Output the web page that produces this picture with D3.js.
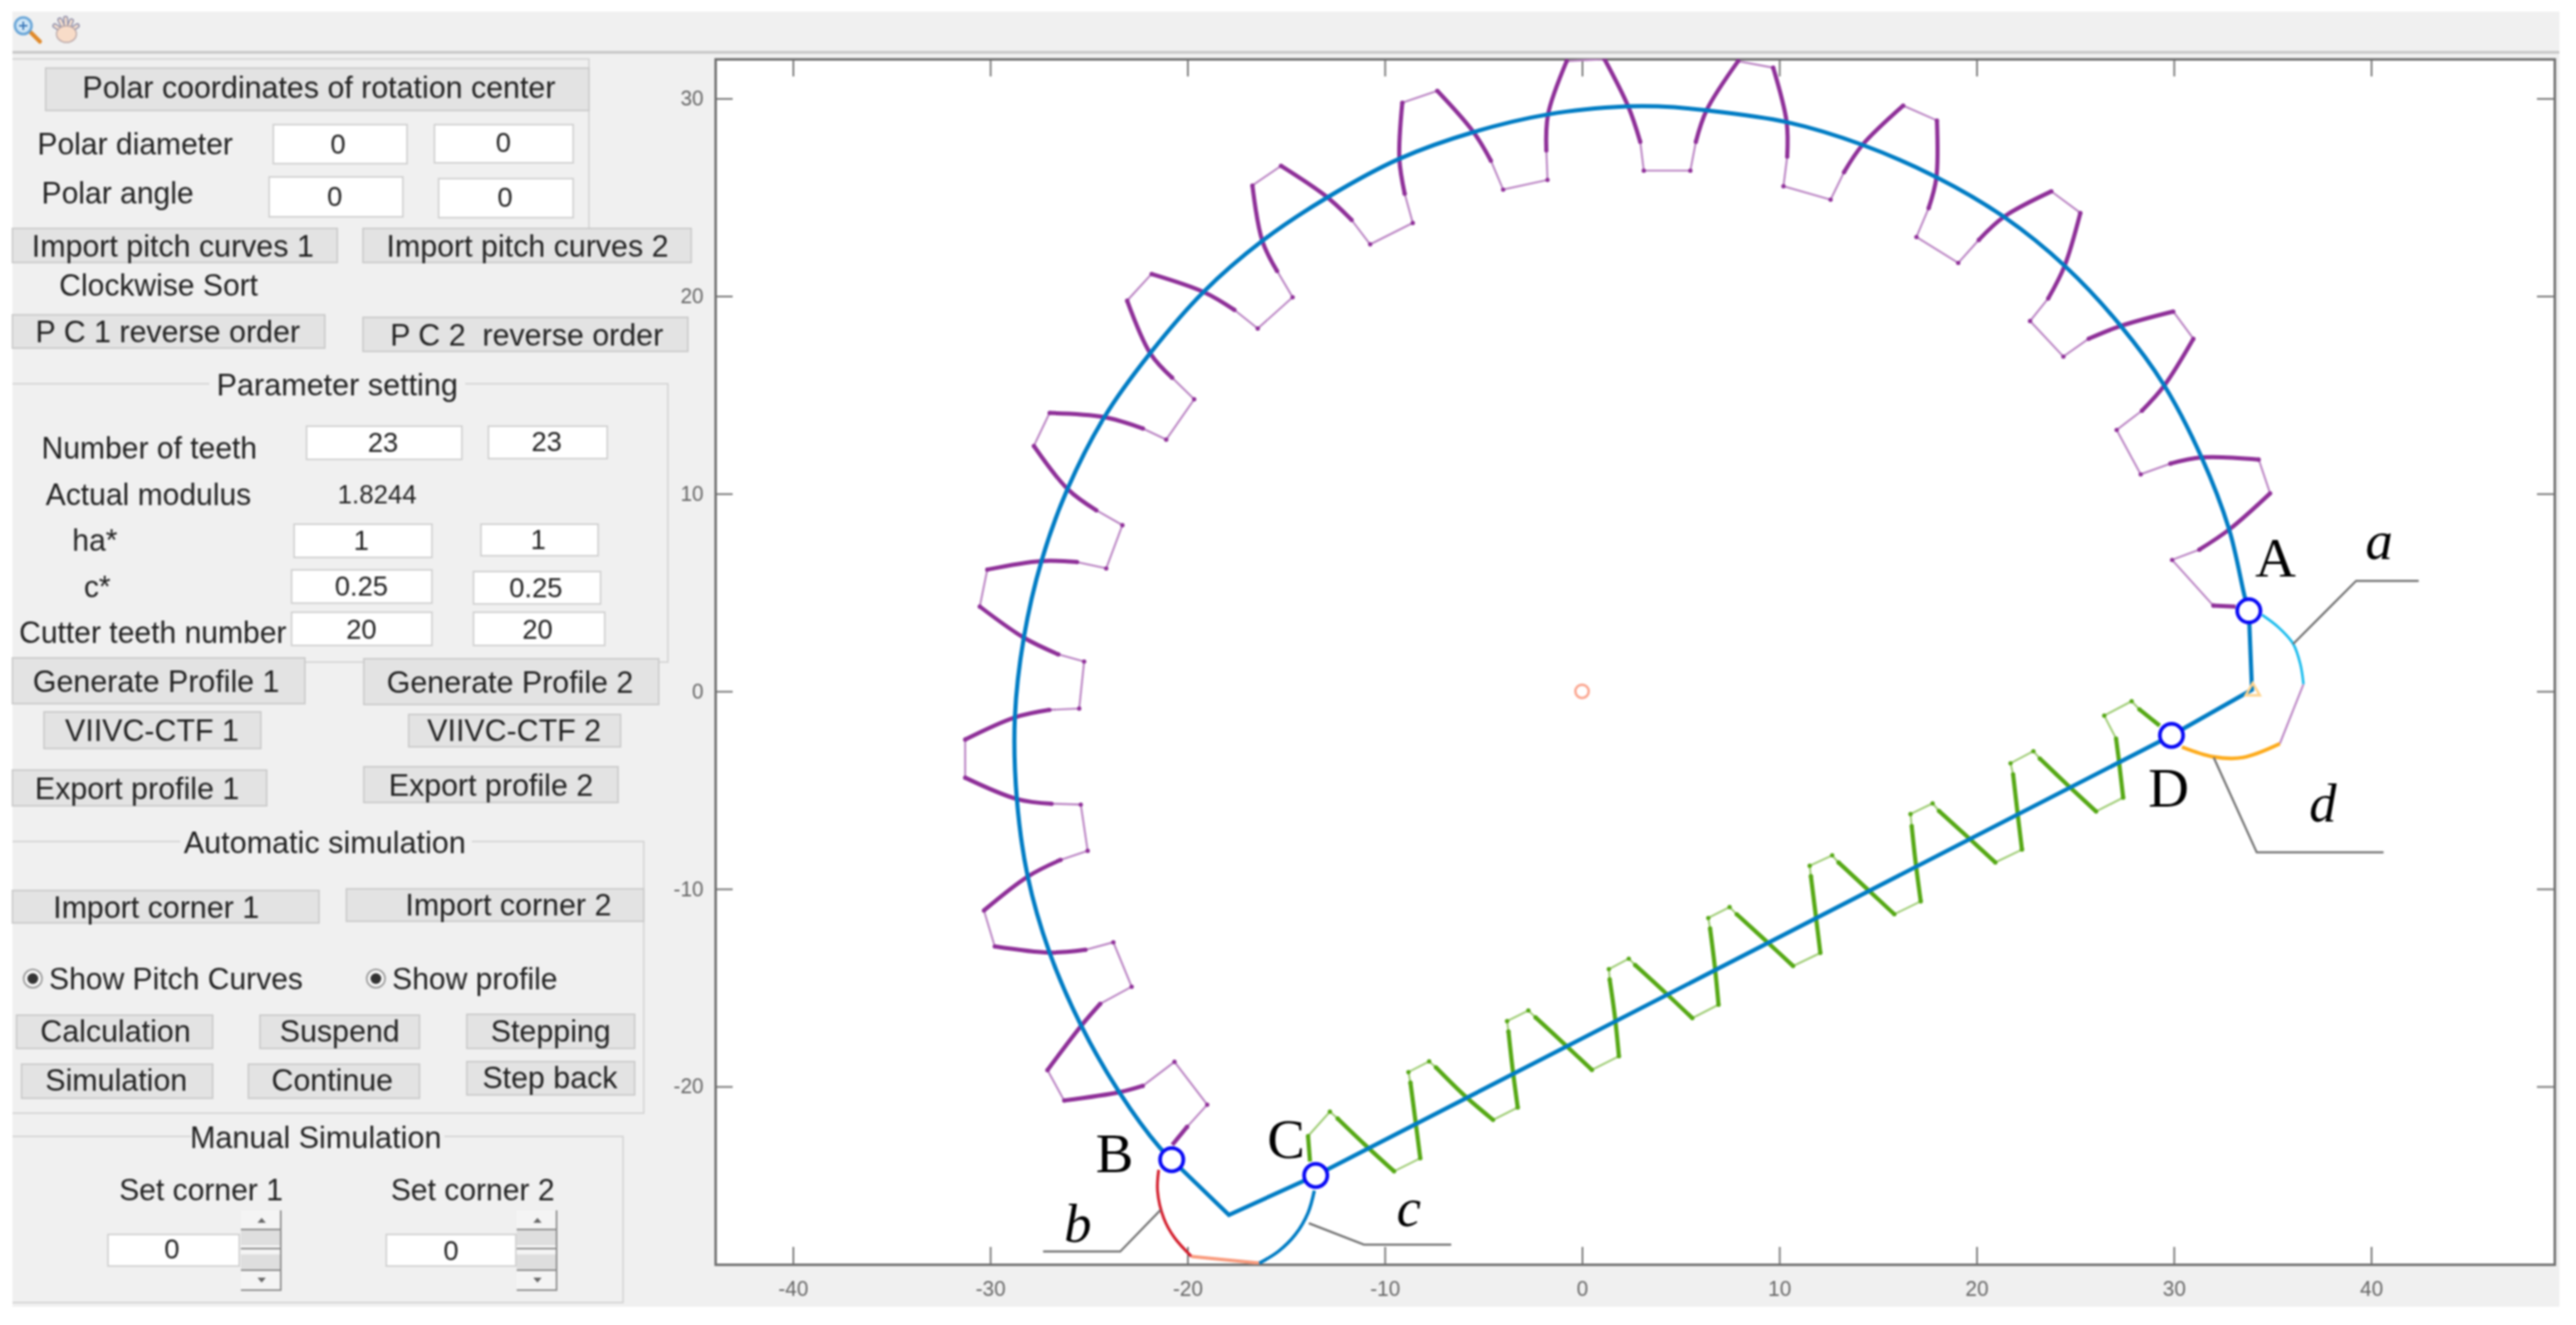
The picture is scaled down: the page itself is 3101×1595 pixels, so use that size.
<!DOCTYPE html>
<html>
<head>
<meta charset="utf-8">
<script src="https://cdn.jsdelivr.net/npm/d3@7"></script>
<style>
  html, body { margin: 0; padding: 0; background: #fff; }
  svg { display: block; filter: blur(0.8px); }
  text { font-family: 'Liberation Sans', Arial, sans-serif; fill: #222; white-space: pre; }
</style>
</head>
<body>
<svg id="chart" width="3101" height="1595"></svg>
<script>
// ---- chart values, in axis units ----
const xTicks = [-40, -30, -20, -10, 0, 10, 20, 30, 40];
const yTicks = [-20, -10, 0, 10, 20, 30];

const pointLabels = [['A', 35.15, 6.74], ['B', -23.7, -23.38], ['C', -15.0, -22.67], ['D', 29.73, -4.89]];
const curveLabels = [['a', 40.4, 7.3], ['b', -25.56, -26.95], ['c', -8.78, -26.46], ['d', 37.55, -5.66]];
const markedPoints = [[33.8, 4.07], [-20.8, -23.7], [-13.5, -24.5], [29.88, -2.23]];
const rotationCenter = [0, 0];
const cutterMark = [34.0, 0.0];

// pitch curve: arc from A round the top to B
const pitchArc = [[33.8, 4.07], [33.6, 4.76], [32.8, 8.2], [31.4, 11.85], [29.5, 15.5], [27.3, 18.5], [24.5, 21.5],
  [21.4, 24.0], [18.0, 26.0], [14.2, 27.66], [10.4, 28.8], [6.3, 29.4], [3.85, 29.6], [2.3, 29.6], [-1.7, 29.2],
  [-5.5, 28.3], [-9.26, 26.95], [-12.9, 25.0], [-16.2, 22.8], [-19.2, 20.2], [-21.9, 17.1], [-24.2, 13.9],
  [-26.1, 10.2], [-27.4, 6.6], [-28.3, 2.7], [-28.75, -1.3], [-28.65, -5.45], [-28.1, -9.37], [-27.0, -13.2],
  [-25.4, -16.9], [-23.45, -20.3], [-21.4, -23.1], [-20.8, -23.7]];
// pitch curve: straight parts from B by C and D back to A
const pitchStraight = [[-20.8, -23.7], [-17.9, -26.5], [-13.5, -24.5], [29.88, -2.23], [33.96, 0.08], [33.8, 4.07]];

// gear profile: thick flanks
const gearFlanks = [
  [[33.13, 4.29], [32.0, 4.34]],
  [[31.29, 7.17], [32.82, 8.2], [34.88, 10.02]],
  [[34.3, 11.73], [31.43, 11.84], [29.82, 11.52]],
  [[28.38, 14.2], [29.52, 15.48], [30.99, 17.84]],
  [[29.97, 19.22], [27.31, 18.49], [25.68, 17.84]],
  [[23.63, 19.88], [24.46, 21.53], [25.26, 24.21]],
  [[23.79, 25.3], [21.4, 24.02], [20.11, 22.84]],
  [[17.57, 24.45], [17.96, 25.99], [17.99, 28.89]],
  [[16.28, 29.64], [14.22, 27.66], [13.28, 26.27]],
  [[10.4, 27.06], [10.37, 28.82], [9.69, 31.56]],
  [[7.91, 31.89], [6.32, 29.42], [5.77, 27.81]],
  [[2.95, 27.81], [2.34, 29.6], [1.14, 31.99]],
  [[-0.78, 31.89], [-1.72, 29.21], [-1.81, 27.38]],
  [[-4.62, 26.85], [-5.51, 28.31], [-7.34, 30.39]],
  [[-9.11, 29.79], [-9.26, 26.96], [-8.99, 25.18]],
  [[-11.68, 23.85], [-12.95, 25.03], [-15.26, 26.59]],
  [[-16.71, 25.6], [-16.2, 22.77], [-15.46, 21.27]],
  [[-17.62, 19.3], [-19.16, 20.2], [-21.82, 21.12]],
  [[-23.06, 19.77], [-21.88, 17.09], [-20.78, 15.87]],
  [[-22.26, 13.3], [-24.24, 13.88], [-26.99, 14.09]],
  [[-27.79, 12.42], [-26.07, 10.23], [-24.62, 9.16]],
  [[-25.6, 6.54], [-27.43, 6.59], [-30.15, 6.16]],
  [[-30.53, 4.29], [-28.32, 2.73], [-26.55, 1.87]],
  [[-27.0, -0.94], [-28.75, -1.32], [-31.27, -2.44]],
  [[-31.27, -4.37], [-28.65, -5.45], [-26.89, -5.69]],
  [[-26.43, -8.53], [-28.09, -9.37], [-30.32, -11.09]],
  [[-29.77, -12.91], [-26.99, -13.22], [-25.17, -13.08]],
  [[-24.42, -15.81], [-25.39, -16.93], [-27.1, -19.17]],
  [[-26.25, -20.71], [-23.45, -20.29], [-22.27, -19.97]],
  [[-20.02, -22.04], [-20.77, -22.95]]
];
// gear profile: thin tips and roots between the flanks
const gearLands = [
  [[32.0, 4.34], [29.91, 6.65], [31.29, 7.17]],
  [[34.88, 10.02], [34.3, 11.73]],
  [[29.82, 11.52], [28.32, 10.98], [27.1, 13.23], [28.38, 14.2]],
  [[30.99, 17.84], [29.97, 19.22]],
  [[25.68, 17.84], [24.4, 16.94], [22.71, 18.74], [23.63, 19.88]],
  [[25.26, 24.21], [23.79, 25.3]],
  [[20.11, 22.84], [19.07, 21.68], [16.95, 22.99], [17.57, 24.45]],
  [[17.99, 28.89], [16.28, 29.64]],
  [[13.28, 26.27], [12.6, 24.88], [10.21, 25.56], [10.4, 27.06]],
  [[9.69, 31.56], [7.91, 31.89]],
  [[5.77, 27.81], [5.49, 26.35], [3.13, 26.35], [2.95, 27.81]],
  [[1.14, 31.99], [-0.78, 31.89]],
  [[-1.81, 27.38], [-1.75, 25.88], [-4.0, 25.39], [-4.62, 26.85]],
  [[-7.34, 30.39], [-9.11, 29.79]],
  [[-8.99, 25.18], [-8.58, 23.7], [-10.74, 22.62], [-11.68, 23.85]],
  [[-15.26, 26.59], [-16.71, 25.6]],
  [[-15.46, 21.27], [-14.67, 19.94], [-16.44, 18.36], [-17.62, 19.3]],
  [[-21.82, 21.12], [-23.06, 19.77]],
  [[-20.78, 15.87], [-19.66, 14.78], [-21.08, 12.74], [-22.26, 13.3]],
  [[-26.99, 14.09], [-27.79, 12.42]],
  [[-24.62, 9.16], [-23.3, 8.41], [-24.12, 6.22], [-25.6, 6.54]],
  [[-30.15, 6.16], [-30.53, 4.29]],
  [[-26.55, 1.87], [-25.24, 1.51], [-25.49, -0.87], [-27.0, -0.94]],
  [[-31.27, -2.44], [-31.27, -4.37]],
  [[-26.89, -5.69], [-25.41, -5.73], [-25.06, -8.07], [-26.43, -8.53]],
  [[-30.32, -11.09], [-29.77, -12.91]],
  [[-25.17, -13.08], [-23.76, -12.7], [-22.83, -14.95], [-24.42, -15.81]],
  [[-27.1, -19.17], [-26.25, -20.71]],
  [[-22.27, -19.97], [-20.66, -18.75], [-19.0, -20.92], [-20.02, -22.04]]
];

// rack profile: thick flanks
const rackFlanks = [
  [[-13.79, -23.8], [-13.89, -22.51]],
  [[-12.39, -21.62], [-11.0, -22.95], [-9.53, -24.29]],
  [[-8.2, -23.63], [-8.46, -21.62], [-8.7, -19.8]],
  [[-7.41, -19.03], [-5.99, -20.43], [-4.51, -21.69]],
  [[-3.26, -21.06], [-3.52, -19.1], [-3.73, -17.21]],
  [[-2.36, -16.5], [-0.96, -17.79], [0.5, -19.16]],
  [[1.87, -18.47], [1.66, -16.42], [1.4, -14.57]],
  [[2.69, -13.85], [4.19, -15.22], [5.59, -16.54]],
  [[6.92, -15.86], [6.73, -13.93], [6.49, -12.0]],
  [[7.84, -11.28], [9.3, -12.61], [10.7, -13.9]],
  [[12.08, -13.24], [11.84, -11.28], [11.6, -9.35]],
  [[13.0, -8.66], [14.44, -9.99], [15.83, -11.28]],
  [[17.17, -10.63], [16.91, -8.66], [16.71, -6.82]],
  [[18.09, -6.05], [19.51, -7.34], [20.95, -8.66]],
  [[22.3, -8.01], [22.06, -6.02], [21.85, -4.2]],
  [[23.2, -3.4], [24.6, -4.73], [26.06, -6.08]],
  [[27.43, -5.38], [27.2, -3.4], [27.07, -2.39]],
  [[28.25, -0.91], [29.28, -1.74]]
];
// rack profile: thin tips and roots
const rackLands = [
  [[-13.89, -22.51], [-12.78, -21.27], [-12.39, -21.62]],
  [[-9.53, -24.29], [-8.2, -23.63]],
  [[-8.7, -19.8], [-8.8, -19.27], [-7.75, -18.73], [-7.41, -19.03]],
  [[-4.51, -21.69], [-3.26, -21.06]],
  [[-3.73, -17.21], [-3.8, -16.69], [-2.72, -16.15], [-2.36, -16.5]],
  [[0.5, -19.16], [1.87, -18.47]],
  [[1.4, -14.57], [1.36, -14.06], [2.37, -13.53], [2.69, -13.85]],
  [[5.59, -16.54], [6.92, -15.86]],
  [[6.49, -12.0], [6.4, -11.47], [7.48, -10.92], [7.84, -11.28]],
  [[10.7, -13.9], [12.08, -13.24]],
  [[11.6, -9.35], [11.54, -8.83], [12.68, -8.3], [13.0, -8.66]],
  [[15.83, -11.28], [17.17, -10.63]],
  [[16.71, -6.82], [16.65, -6.21], [17.77, -5.67], [18.09, -6.05]],
  [[20.95, -8.66], [22.3, -8.01]],
  [[21.85, -4.2], [21.72, -3.64], [22.88, -3.03], [23.2, -3.4]],
  [[26.06, -6.08], [27.43, -5.38]],
  [[27.07, -2.39], [26.47, -1.23], [27.86, -0.5], [28.25, -0.91]]
];

// transition curves a, b, c, d and the pieces that join them
const curveA = [[34.47, 3.87], [35.3, 3.24], [36.05, 2.4], [36.42, 1.34], [36.57, 0.36]];
const curveB = [[-21.46, -24.22], [-21.52, -25.27], [-21.2, -26.67], [-20.66, -27.65], [-19.8, -28.6]];
const curveC = [[-13.57, -25.27], [-13.89, -26.39], [-14.54, -27.5], [-15.4, -28.35], [-16.36, -28.94]];
const curveD = [[30.41, -2.82], [31.99, -3.31], [33.49, -3.35], [35.37, -2.65]];
const joinAD = [[36.57, 0.36], [35.37, -2.65]];
const joinBC = [[-19.8, -28.6], [-16.36, -28.94]];

const leaders = [
  [[36.05, 2.4], [39.24, 5.59], [42.41, 5.59]],
  [[-21.37, -26.25], [-23.41, -28.35], [-27.32, -28.35]],
  [[-13.85, -26.92], [-11.06, -28.0], [-6.63, -28.0]],
  [[32.02, -3.35], [34.2, -8.15], [40.63, -8.15]]
];

// ---- the GUI panel round the axes (screen layout, not chart values) ----
const uiButtons = [
  ['Polar coordinates of rotation center', 55, 82, 709, 133, 384, 105],
  ['Import pitch curves 1', 15, 275, 406, 316, 208, 296],
  ['Import pitch curves 2', 437, 275, 832, 316, 635, 296],
  ['P C 1 reverse order', 15, 379, 391, 419, 202, 399],
  ['P C 2  reverse order', 437, 382, 828, 423, 634, 403],
  ['Generate Profile 1', 15, 792, 367, 847, 188, 820],
  ['Generate Profile 2', 438, 793, 793, 848, 614, 821],
  ['VIIVC-CTF 1', 53, 857, 314, 901, 183, 879],
  ['VIIVC-CTF 2', 492, 860, 747, 899, 619, 879],
  ['Export profile 1', 15, 927, 321, 970, 165, 949],
  ['Export profile 2', 438, 923, 744, 966, 591, 945],
  ['Import corner 1', 15, 1072, 384, 1111, 188, 1092],
  ['Import corner 2', 417, 1070, 775, 1109, 612, 1089],
  ['Calculation', 20, 1222, 256, 1262, 139, 1241],
  ['Suspend', 313, 1222, 505, 1262, 409, 1241],
  ['Stepping', 562, 1221, 764, 1262, 663, 1241],
  ['Simulation', 26, 1281, 256, 1322, 140, 1300],
  ['Continue', 299, 1281, 505, 1322, 400, 1300],
  ['Step back', 562, 1278, 764, 1318, 662, 1297]
];
const uiInputs = [
  ['0', 329, 150, 490, 197, 407, 173], ['0', 523, 150, 690, 196, 606, 171],
  ['0', 324, 213, 485, 261, 403, 236], ['0', 528, 215, 690, 262, 608, 237],
  ['23', 369, 513, 556, 553, 461, 532], ['23', 588, 513, 731, 552, 658, 531],
  ['1', 354, 631, 520, 671, 435, 650], ['1', 579, 631, 720, 669, 648, 649],
  ['0.25', 351, 686, 520, 726, 435, 705], ['0.25', 570, 688, 723, 727, 645, 707],
  ['20', 351, 737, 520, 777, 435, 757], ['20', 570, 737, 728, 777, 647, 757],
  ['0', 130, 1486, 288, 1524, 207, 1503], ['0', 465, 1486, 621, 1524, 543, 1505]
];
const uiLabels = [
  ['Polar diameter', 45, 173, 'start'], ['Polar angle', 50, 232, 'start'],
  ['Clockwise Sort', 191, 343, 'middle'], ['Number of teeth', 50, 539, 'start'],
  ['Actual modulus', 55, 595, 'start'], ['ha*', 87, 650, 'start'], ['c*', 101, 706, 'start'],
  ['Cutter teeth number', 23, 761, 'start'], ['Show Pitch Curves', 59, 1178, 'start'],
  ['Show profile', 472, 1178, 'start'], ['Set corner 1', 242, 1432, 'middle'], ['Set corner 2', 569, 1432, 'middle']
];
// title, title centre, frame top, frame right, frame bottom, gap in the top line
const uiGroups = [
  ['', 0, 71, 709, 278, 0, 0],
  ['Parameter setting', 406, 462, 804, 797, 252, 560],
  ['Automatic simulation', 391, 1013, 775, 1340, 217, 568],
  ['Manual Simulation', 380, 1368, 750, 1568, 230, 535]
];
const uiRadios = [[39.5, 1178], [452.5, 1178]];
const uiSpinners = [290, 622];

const svg = d3.select('#chart');

// Panel background and toolbar
svg.append('rect').attr('x', 15).attr('y', 14).attr('width', 3066).attr('height', 1559).attr('fill', '#f0f0f0');
svg.append('line').attr('x1', 15).attr('x2', 3081).attr('y1', 63).attr('y2', 63).attr('stroke', '#c4c4c4').attr('stroke-width', 3);

let icons = svg.append('g').attr('class', 'toolbar');
icons.append('line').attr('x1', 37).attr('y1', 39).attr('x2', 48).attr('y2', 50)
  .attr('stroke', '#e08a2c').attr('stroke-width', 5).attr('stroke-linecap', 'round');
icons.append('circle').attr('cx', 28).attr('cy', 31).attr('r', 10)
  .attr('fill', '#cfe6f7').attr('stroke', '#6aa6d8').attr('stroke-width', 3);
icons.append('path').attr('d', 'M23 31h10M28 26v10').attr('stroke', '#3c78b8').attr('stroke-width', 2);
[[66, 31], [72, 24], [79, 22], [86, 25], [93, 31]].forEach(f => {
  icons.append('line').attr('x1', f[0]).attr('y1', f[1]).attr('x2', 80).attr('y2', 40)
    .attr('stroke', '#8c8ca8').attr('stroke-width', 6).attr('stroke-linecap', 'round');
  icons.append('line').attr('x1', f[0]).attr('y1', f[1]).attr('x2', 80).attr('y2', 40)
    .attr('stroke', '#f8e2d0').attr('stroke-width', 3).attr('stroke-linecap', 'round');
});
icons.append('ellipse').attr('cx', 80).attr('cy', 41).attr('rx', 12).attr('ry', 10)
  .attr('fill', '#f8dcc8').attr('stroke', '#b9a6a6').attr('stroke-width', 1.5);

// Group frames
let frames = svg.append('g').attr('class', 'frames').attr('fill', 'none').attr('stroke', '#d6d6d6').attr('stroke-width', 2);
frames.selectAll('path').data(uiGroups).join('path')
  .attr('d', d => {
    let top = d[0] ? `M15 ${d[2]}H${d[5]}M${d[6]} ${d[2]}H${d[3]}` : `M15 ${d[2]}H${d[3]}`;
    let bottom = d[0] ? `H15` : '';
    return `${top}V${d[4]}${bottom}`;
  });
svg.append('g').selectAll('text').data(uiGroups.filter(d => d[0])).join('text')
  .attr('x', d => d[1]).attr('y', d => d[2] + 1).attr('dy', '.35em')
  .attr('text-anchor', 'middle').attr('font-size', 36.8).text(d => d[0]);

// Buttons and edit boxes
function drawBoxes(rows, cls, fill, stroke, size) {
  let g = svg.append('g').attr('class', cls);
  g.selectAll('rect').data(rows).join('rect')
    .attr('x', d => d[1]).attr('y', d => d[2])
    .attr('width', d => d[3] - d[1]).attr('height', d => d[4] - d[2])
    .attr('fill', fill).attr('stroke', stroke).attr('stroke-width', 2);
  g.selectAll('text').data(rows).join('text')
    .attr('x', d => d[5]).attr('y', d => d[6]).attr('dy', '.36em')
    .attr('text-anchor', 'middle').attr('font-size', size).text(d => d[0]);
}
drawBoxes(uiButtons, 'buttons', '#e3e3e3', '#cccccc', 36.6);
drawBoxes(uiInputs, 'inputs', '#ffffff', '#d2d2d2', 33);

svg.append('g').selectAll('text').data(uiLabels).join('text')
  .attr('x', d => d[1]).attr('y', d => d[2]).attr('dy', '.36em')
  .attr('text-anchor', d => d[3]).attr('font-size', 36.2).text(d => d[0]);
svg.append('text').attr('x', 454).attr('y', 595).attr('dy', '.36em')
  .attr('text-anchor', 'middle').attr('font-size', 31).text('1.8244');

// Radio buttons
let radios = svg.append('g').attr('class', 'radios');
radios.selectAll('circle.outer').data(uiRadios).join('circle').attr('class', 'outer')
  .attr('cx', d => d[0]).attr('cy', d => d[1]).attr('r', 11)
  .attr('fill', '#fafafa').attr('stroke', '#9a9a9a').attr('stroke-width', 2);
radios.selectAll('circle.inner').data(uiRadios).join('circle').attr('class', 'inner')
  .attr('cx', d => d[0]).attr('cy', d => d[1]).attr('r', 6.5).attr('fill', '#333');

// Spin boxes
uiSpinners.forEach(sx => {
  let g = svg.append('g').attr('class', 'spinner').attr('transform', `translate(${sx}, 1457)`);
  g.append('rect').attr('width', 49).attr('height', 97).attr('fill', '#f4f4f4');
  g.append('rect').attr('y', 23).attr('width', 49).attr('height', 19).attr('fill', '#dedede');
  g.append('rect').attr('y', 53).attr('width', 49).attr('height', 19).attr('fill', '#dedede');
  g.append('path').attr('d', 'M0 23H49M0 46H49M0 72H49M0 96H49M48 0V97').attr('stroke', '#8e8e8e').attr('stroke-width', 2).attr('fill', 'none');
  g.append('path').attr('d', 'M20 15L25 9L30 15ZM20 81L25 87L30 81Z').attr('fill', '#666');
});

// Axes: aspect kept equal, limits read from the frame
const x = d3.scaleLinear().domain([-43.94, 49.29]).range([861, 3075]);
const y = d3.scaleLinear().domain([-29, 32]).range([1522, 71]);

svg.append('rect').attr('x', 861).attr('y', 71).attr('width', 2214).attr('height', 1451).attr('fill', '#fff');

svg.append('defs').append('clipPath').attr('id', 'plot-clip').append('rect')
  .attr('x', 861).attr('y', 71).attr('width', 2214).attr('height', 1451);

const axisBottom = d3.axisBottom(x).tickValues(xTicks).tickSize(-21).tickPadding(20).tickFormat(d => String(d));
const axisTop = d3.axisTop(x).tickValues(xTicks).tickSize(-21).tickFormat('');
const axisLeft = d3.axisLeft(y).tickValues(yTicks).tickSize(-21).tickPadding(14).tickFormat(d => String(d));
const axisRight = d3.axisRight(y).tickValues(yTicks).tickSize(-21).tickFormat('');

function styleAxis(g) {
  g.select('.domain').attr('stroke', '#707070').attr('stroke-width', 3);
  g.selectAll('.tick line').attr('stroke', '#707070').attr('stroke-width', 2);
  g.selectAll('.tick text').attr('font-size', 25).attr('font-family', "'Liberation Sans', Arial, sans-serif").style('fill', '#666');
}
svg.append('g').attr('transform', 'translate(0, 1522)').call(axisBottom).call(styleAxis);
svg.append('g').attr('transform', 'translate(0, 71)').call(axisTop).call(styleAxis);
svg.append('g').attr('transform', 'translate(861, 0)').call(axisLeft).call(styleAxis);
svg.append('g').attr('transform', 'translate(3075, 0)').call(axisRight).call(styleAxis);

// Curves
const straight = d3.line().x(d => x(d[0])).y(d => y(d[1]));
const smooth = d3.line().x(d => x(d[0])).y(d => y(d[1])).curve(d3.curveCatmullRom.alpha(0.5));

let plot = svg.append('g').attr('class', 'plot').attr('clip-path', 'url(#plot-clip)').attr('fill', 'none');

function drawProfile(cls, lands, flanks, thinColor, thickColor) {
  let g = plot.append('g').attr('class', cls);
  g.selectAll('path.land').data(lands).join('path').attr('class', 'land')
    .attr('d', straight).attr('stroke', thinColor).attr('stroke-width', 2.4);
  g.selectAll('circle').data(lands.flat()).join('circle')
    .attr('cx', d => x(d[0])).attr('cy', d => y(d[1])).attr('r', 2.6).attr('fill', thickColor);
  g.selectAll('path.flank').data(flanks).join('path').attr('class', 'flank')
    .attr('d', smooth).attr('stroke', thickColor).attr('stroke-width', 5);
}
drawProfile('gear', gearLands, gearFlanks, '#bb85c4', '#8e2f98');
drawProfile('rack', rackLands, rackFlanks, '#9fcd75', '#55a814');

plot.append('path').datum(pitchArc).attr('d', smooth).attr('stroke', '#007cc4').attr('stroke-width', 5);
plot.append('path').datum(pitchStraight).attr('d', straight).attr('stroke', '#007cc4').attr('stroke-width', 5)
  .attr('stroke-linejoin', 'miter');

plot.append('path').datum(joinAD).attr('d', straight).attr('stroke', '#bb85c4').attr('stroke-width', 2.4);
plot.append('path').datum(curveA).attr('d', smooth).attr('stroke', '#1dbdee').attr('stroke-width', 3.2);
plot.append('path').datum(curveD).attr('d', smooth).attr('stroke', '#fdab1c').attr('stroke-width', 4.5);
plot.append('path').datum(curveB).attr('d', smooth).attr('stroke', '#d4202f').attr('stroke-width', 3.5);
plot.append('path').datum(joinBC).attr('d', straight).attr('stroke', '#f99a7c').attr('stroke-width', 4);
plot.append('path').datum(curveC).attr('d', smooth).attr('stroke', '#007cc4').attr('stroke-width', 4);

plot.append('path')
  .attr('d', d3.symbol().type(d3.symbolTriangle).size(125)())
  .attr('transform', `translate(${x(cutterMark[0])}, ${y(cutterMark[1])})`)
  .attr('stroke', '#ffd48e').attr('stroke-width', 3);

plot.append('circle').attr('cx', x(rotationCenter[0])).attr('cy', y(rotationCenter[1])).attr('r', 8)
  .attr('stroke', '#fba58f').attr('stroke-width', 3);

plot.append('g').selectAll('path').data(leaders).join('path')
  .attr('d', straight).attr('stroke', '#707070').attr('stroke-width', 2.5);

plot.append('g').selectAll('circle').data(markedPoints).join('circle')
  .attr('cx', d => x(d[0])).attr('cy', d => y(d[1])).attr('r', 14)
  .attr('fill', '#fff').attr('stroke', '#0a0af5').attr('stroke-width', 4.5);

// Annotations
svg.append('g').selectAll('text').data(pointLabels).join('text')
  .attr('x', d => x(d[1])).attr('y', d => y(d[2])).attr('dy', '.33em').attr('text-anchor', 'middle')
  .attr('font-size', 68).style('font-family', "'Liberation Serif', serif").style('fill', '#000').text(d => d[0]);
svg.append('g').selectAll('text').data(curveLabels).join('text')
  .attr('x', d => x(d[1])).attr('y', d => y(d[2])).attr('dy', d => d[0] === 'a' || d[0] === 'c' ? '.22em' : '.33em')
  .attr('text-anchor', 'middle').attr('font-size', 66).attr('font-style', 'italic')
  .style('font-family', "'Liberation Serif', serif").style('fill', '#000').text(d => d[0]);
</script>
</body>
</html>
